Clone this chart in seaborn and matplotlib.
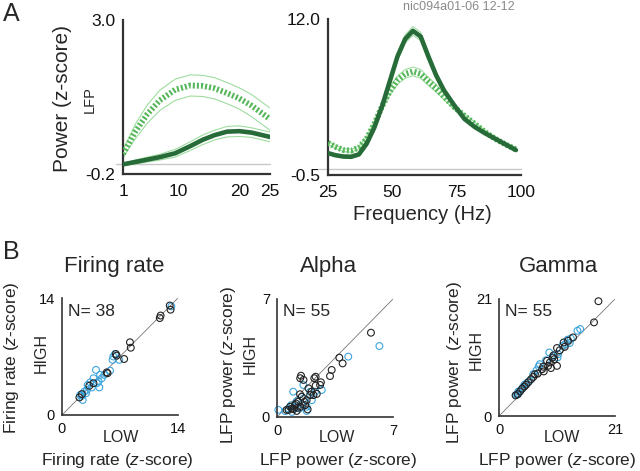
import numpy as np
import pandas as pd
import matplotlib
matplotlib.use("Agg")
import matplotlib.pyplot as plt
import seaborn as sns

sns.set_theme(style="white")
plt.rcParams['font.family'] = ['Liberation Sans', 'DejaVu Sans']
plt.rcParams['mathtext.fontset'] = 'custom'
plt.rcParams['mathtext.rm'] = 'Liberation Sans'
plt.rcParams['mathtext.it'] = 'Liberation Sans:italic'

# ---------------- data ----------------
# Panel A, alpha range spectrum (1-25 Hz)
alpha_freq = [1, 3, 5, 7, 9.5, 12, 14, 16, 18, 20, 22, 25]
alpha_dark = [0.0, 0.05, 0.10, 0.15, 0.23, 0.38, 0.51, 0.61, 0.68, 0.69, 0.66, 0.57]
alpha_dark_sem = [0.02, 0.04, 0.05, 0.06, 0.08, 0.09, 0.10, 0.10, 0.11, 0.11, 0.10, 0.10]
alpha_light = [0.22, 0.68, 1.05, 1.33, 1.55, 1.64, 1.63, 1.58, 1.48, 1.37, 1.22, 0.94]
alpha_light_sem = [0.08, 0.15, 0.19, 0.21, 0.22, 0.22, 0.22, 0.22, 0.22, 0.22, 0.23, 0.23]

# Panel A, gamma range spectrum (25-100 Hz)
gamma_freq = [25, 28, 31, 34, 37, 40, 43, 46, 49, 52, 55, 58, 61, 64, 67, 70,
              74, 78, 82, 86, 90, 94, 98]
gamma_dark = [1.25, 1.08, 0.98, 0.96, 1.15, 2.0, 3.3, 5.0, 7.0, 9.0, 10.4, 11.05,
              10.6, 9.0, 7.5, 6.3, 5.1, 4.0, 3.35, 2.85, 2.4, 1.95, 1.5]
gamma_dark_sem = [0.1, 0.1, 0.1, 0.1, 0.1, 0.12, 0.15, 0.2, 0.25, 0.3, 0.33, 0.35,
                  0.33, 0.3, 0.25, 0.2, 0.15, 0.12, 0.1, 0.1, 0.1, 0.1, 0.1]
gamma_light = [2.07, 1.75, 1.5, 1.45, 1.7, 2.4, 3.6, 5.0, 6.2, 7.1, 7.6, 7.8,
               7.6, 7.0, 6.45, 5.8, 4.95, 4.25, 3.6, 2.95, 2.4, 1.95, 1.55]
gamma_light_sem = [0.12, 0.12, 0.12, 0.12, 0.12, 0.15, 0.2, 0.25, 0.3, 0.33, 0.35, 0.35,
                   0.35, 0.33, 0.3, 0.25, 0.2, 0.15, 0.12, 0.12, 0.12, 0.12, 0.12]

# Panel B scatter data (LOW vs HIGH)
fr_black_x = [13.0, 13.1, 11.8, 11.9, 8.2, 8.3, 7.5, 6.5, 6.6, 5.5, 5.4, 3.8, 3.3, 2.4, 2.1]
fr_black_y = [13.1, 12.6, 11.6, 11.9, 8.7, 8.05, 6.7, 7.3, 7.1, 5.0, 5.1, 3.8, 3.5, 2.5, 2.1]
fr_blue_x = [13.2, 6.4, 6.2, 6.9, 6.1, 4.1, 4.6, 5.1, 4.8, 3.8, 4.2, 4.5, 3.6, 3.0, 2.7,
             2.4, 2.5, 2.2, 3.1, 5.8, 3.4, 2.9, 4.4]
fr_blue_y = [13.0, 7.3, 7.0, 6.6, 6.6, 5.4, 4.8, 4.8, 4.4, 4.4, 3.8, 3.3, 3.3, 3.0, 2.8,
             2.3, 1.8, 2.4, 3.6, 5.3, 3.9, 2.6, 4.0]

al_black_x = [5.67, 3.76, 3.96, 3.3, 3.2, 2.33, 2.25, 2.65, 2.33, 1.45, 1.4, 1.6, 2.09, 2.2,
              2.4, 1.39, 1.5, 1.79, 1.66, 1.29, 1.09, 0.79, 0.58, 1.19, 1.0, 0.7, 2.0, 1.7,
              1.4, 1.15, 1.9, 2.6, 1.25, 0.9, 1.85]
al_black_y = [5.0, 3.52, 3.18, 2.79, 2.43, 2.39, 2.3, 2.06, 1.86, 2.45, 2.3, 2.2, 1.5, 1.3,
              1.37, 1.35, 1.2, 1.0, 0.9, 0.91, 0.71, 0.61, 0.42, 0.36, 0.47, 0.42, 1.3, 0.7,
              0.6, 0.8, 1.7, 1.9, 0.55, 0.5, 0.45]
al_blue_x = [6.18, 4.3, 2.7, 0.98, 1.59, 2.0, 1.79, 1.79, 0.08, 0.7, 1.2, 1.5, 0.9, 2.3,
             1.1, 1.6, 0.5, 2.1, 1.35, 0.85]
al_blue_y = [4.21, 3.58, 1.6, 1.5, 1.9, 1.5, 0.61, 0.36, 0.42, 0.5, 0.95, 0.75, 0.3, 1.5,
             0.6, 1.1, 0.35, 1.0, 0.5, 0.7]

ga_black_x = [18.0, 17.2, 13.4, 11.7, 11.9, 10.5, 9.9, 9.7, 10.5, 8.9, 9.4, 8.0, 8.1, 6.5,
              6.2, 5.3, 4.9, 4.6, 3.8, 3.4, 3.0, 7.8, 8.7, 12.5, 10.0, 7.0, 5.8, 4.2, 9.2, 11.0]
ga_black_y = [20.6, 16.8, 14.1, 13.2, 12.4, 12.2, 10.9, 10.5, 9.0, 9.0, 8.6, 8.85, 8.0, 7.5,
              7.0, 6.05, 5.6, 5.3, 4.4, 3.9, 3.7, 8.4, 9.9, 13.5, 10.2, 7.6, 6.6, 4.9, 9.6, 11.8]
ga_blue_x = [14.7, 14.2, 12.4, 12.8, 9.1, 10.7, 10.6, 7.4, 7.2, 6.2, 4.6, 4.0, 3.5, 3.1,
             3.5, 5.0, 13.0, 11.5, 8.5, 6.8, 4.3, 3.3, 9.8, 12.0, 5.5]
ga_blue_y = [15.6, 15.3, 13.7, 13.1, 11.4, 11.1, 10.5, 9.3, 8.9, 7.5, 5.6, 4.7, 4.1, 3.8,
             4.4, 5.9, 13.9, 12.6, 10.0, 8.2, 5.1, 3.9, 10.8, 12.9, 6.3]

scatter_titles = ["Firing rate", "Alpha", "Gamma"]
scatter_max = [14, 7, 21]
scatter_n = ["N= 38", "N= 55", "N= 55"]

# ---------------- style ----------------
W, H = 640, 471
DARK = "#276B39"
LIGHT = "#55B65A"
ENV = "#9EDD9F"
BLACK = "#222222"
BLUE = "#3DA5DD"
SPINE = "#333333"
TICKC = "#999999"

fig = plt.figure(figsize=(W / 100, H / 100), dpi=100)


def box(x0, y0, x1, y1):
    return [x0 / W, 1 - y1 / H, (x1 - x0) / W, (y1 - y0) / H]


def ftext(x, y, s, **kw):
    fig.text(x / W, 1 - y / H, s, **kw)


def spectrum(ax, freq, dark, dsem, light, lsem, xlim, ylim, xticks, yticks):
    f = np.array(freq)
    d, ds = np.array(dark), np.array(dsem)
    l, ls = np.array(light), np.array(lsem)
    ax.axhline(0, color="#c8c8c8", lw=1.0, zorder=1, xmin=-0.05, clip_on=False)
    for y in (l + ls, l - ls):
        sns.lineplot(x=f, y=y, ax=ax, color=ENV, lw=0.8, zorder=2)
    sns.lineplot(x=f, y=l, ax=ax, color=LIGHT, lw=4.2, zorder=3,
                 linestyle=(0, (0.35, 0.35)))
    for y in (d + ds, d - ds):
        sns.lineplot(x=f, y=y, ax=ax, color=ENV, lw=0.8, zorder=4)
    sns.lineplot(x=f, y=d, ax=ax, color=DARK, lw=3.3, zorder=5)
    ax.set_xlim(*xlim)
    ax.set_ylim(*ylim)
    ax.set_xticks(xticks)
    ax.set_xticklabels([str(t) for t in xticks])
    ax.set_yticks(yticks)
    ax.set_yticklabels([f"{t:.1f}" for t in yticks])
    for s in ("top", "right"):
        ax.spines[s].set_visible(False)
    for s in ("left", "bottom"):
        ax.spines[s].set_color(SPINE)
        ax.spines[s].set_linewidth(1.6)
    ax.tick_params(axis="both", direction="out", length=2.5, width=0.8,
                   color=TICKC, labelsize=12.5, labelcolor="#111111")
    ax.tick_params(axis="x", pad=5)
    ax.tick_params(axis="y", pad=3)
    ax.set_xlabel("")
    ax.set_ylabel("")


axA1 = fig.add_axes(box(123, 20, 270, 174))
spectrum(axA1, alpha_freq, alpha_dark, alpha_dark_sem, alpha_light, alpha_light_sem,
         (1, 25), (-0.2, 3.0), [1, 10, 20, 25], [-0.2, 3.0])
axA2 = fig.add_axes(box(328, 19, 521, 175))
spectrum(axA2, gamma_freq, gamma_dark, gamma_dark_sem, gamma_light, gamma_light_sem,
         (25, 100), (-0.5, 12.0), [25, 50, 75, 100], [-0.5, 12.0])

ftext(3, 14, "A", fontsize=18, va="center", ha="left")
ftext(63, 98, "Power (z-score)", fontsize=15, rotation=90, va="center", ha="center")
ftext(90, 100, "LFP", fontsize=10.5, rotation=90, va="center", ha="center")
ftext(422, 214, "Frequency (Hz)", fontsize=14.5, va="center", ha="center")
ftext(459, 7, "nic094a01-06 12-12", fontsize=9, color="#8a8a8a", va="center", ha="center")

# ---------------- panel B ----------------
ftext(3, 252, "B", fontsize=18, va="center", ha="left")

b_boxes = [(62, 298, 178, 415), (277, 299, 393, 417), (499, 299, 615, 416)]
b_data = [(fr_black_x, fr_black_y, fr_blue_x, fr_blue_y),
          (al_black_x, al_black_y, al_blue_x, al_blue_y),
          (ga_black_x, ga_black_y, ga_blue_x, ga_blue_y)]
title_x = [114, 329, 558]
n_x = [68, 283, 505]
low_x = [121, 337, 562]
high_x = [41, 250, 476]
high_y = [353, 354, 350]
ylab_x = [12, 228, 455]
ylab_y = [358, 365, 362]
xlab_x = [117, 338, 557]
ylabels = ["Firing rate ($\\it{z}$-score)", "LFP power ($\\it{z}$-score)",
           "LFP power  ($\\it{z}$-score)"]
xlabels = ["Firing rate ($\\it{z}$-score)", "LFP power ($\\it{z}$-score)",
           "LFP power ($\\it{z}$-score)"]

for i in range(3):
    ax = fig.add_axes(box(*b_boxes[i]))
    m = scatter_max[i]
    bx, by, ux, uy = b_data[i]
    sns.lineplot(x=[0, m], y=[0, m], ax=ax, color="#777777", lw=0.6, zorder=1)
    sns.scatterplot(x=ux, y=uy, ax=ax, marker="o", s=24, facecolor="none",
                    edgecolor=BLUE, linewidth=0.8, zorder=2, clip_on=False)
    sns.scatterplot(x=bx, y=by, ax=ax, marker="o", s=24, facecolor="none",
                    edgecolor=BLACK, linewidth=0.8, zorder=3, clip_on=False)
    ax.set_xlim(0, m)
    ax.set_ylim(0, m)
    ax.set_xticks([0, m / 2, m])
    ax.set_xticklabels(["0", "", str(m)])
    ax.set_yticks([0, m / 2, m])
    ax.set_yticklabels(["0", "", str(m)])
    for s in ("top", "right"):
        ax.spines[s].set_visible(False)
    for s in ("left", "bottom"):
        ax.spines[s].set_color(SPINE)
        ax.spines[s].set_linewidth(1.2)
    ax.tick_params(axis="both", direction="out", length=2, width=0.7,
                   color=TICKC, labelsize=10.5, labelcolor="#111111", pad=3)
    ax.set_xlabel("")
    ax.set_ylabel("")
    ftext(title_x[i], 272, scatter_titles[i], fontsize=16, ha="center", va="baseline")
    ftext(n_x[i], 316, scatter_n[i], fontsize=12.5, ha="left", va="baseline")
    ftext(low_x[i], 438, "LOW", fontsize=11.5, ha="center", va="center")
    ftext(high_x[i], high_y[i], "HIGH", fontsize=11.5, ha="center", va="center",
          rotation=90)
    ftext(ylab_x[i], ylab_y[i], ylabels[i], fontsize=12.5, ha="center", va="center",
          rotation=90)
    ftext(xlab_x[i], 460, xlabels[i], fontsize=12.5, ha="center", va="center")

fig.savefig("out.png", dpi=100)
